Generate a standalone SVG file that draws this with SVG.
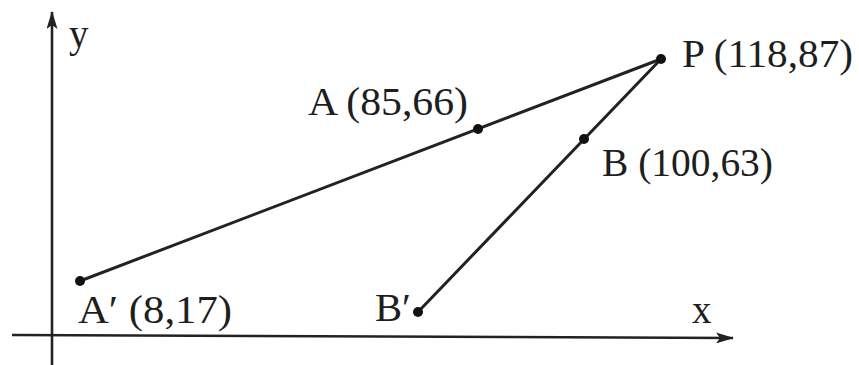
<svg xmlns="http://www.w3.org/2000/svg" width="859" height="365" viewBox="0 0 859 365">
<style>
.ln{stroke:#222;stroke-width:3;fill:none;stroke-linecap:round}
.ax{stroke:#222;stroke-width:2.6;fill:none}
.dot{fill:#111}
text{font-family:"Liberation Serif","Times New Roman",serif;font-size:39px;fill:#1e1e1e}
</style>
<defs>
<marker id="arr" viewBox="0 0 18 11" refX="17" refY="5.5" markerWidth="18" markerHeight="11" markerUnits="userSpaceOnUse" orient="auto">
<path d="M0,0 L18,5.5 L0,11 L4,5.5 Z" fill="#222"/>
</marker>
</defs>
<rect width="859" height="365" fill="#fff"/>
<g id="axes">
<line class="ax" x1="52" y1="365" x2="52" y2="12" marker-end="url(#arr)"/>
<line class="ax" x1="12" y1="335" x2="733" y2="338" marker-end="url(#arr)"/>
<text x="69" y="47">y</text>
<text x="692" y="323">x</text>
</g>
<g id="connectors">
<line class="ln" x1="80" y1="281" x2="661" y2="59"/>
<line class="ln" x1="418" y1="312" x2="661" y2="59"/>
</g>
<g id="P"><circle class="dot" cx="661" cy="59" r="5"/><text x="682" y="67" textLength="171" lengthAdjust="spacingAndGlyphs">P (118,87)</text></g>
<g id="A"><circle class="dot" cx="478" cy="129" r="5"/><text x="308" y="115" textLength="160" lengthAdjust="spacingAndGlyphs">A (85,66)</text></g>
<g id="B"><circle class="dot" cx="584" cy="139" r="5"/><text x="602" y="176" textLength="171" lengthAdjust="spacingAndGlyphs">B (100,63)</text></g>
<g id="A-prime"><circle class="dot" cx="80" cy="281" r="5"/><text x="78" y="323" textLength="154" lengthAdjust="spacingAndGlyphs">A′ (8,17)</text></g>
<g id="B-prime"><circle class="dot" cx="418" cy="312" r="5"/><text x="375" y="321" textLength="36" lengthAdjust="spacingAndGlyphs">B′</text></g>
</svg>
